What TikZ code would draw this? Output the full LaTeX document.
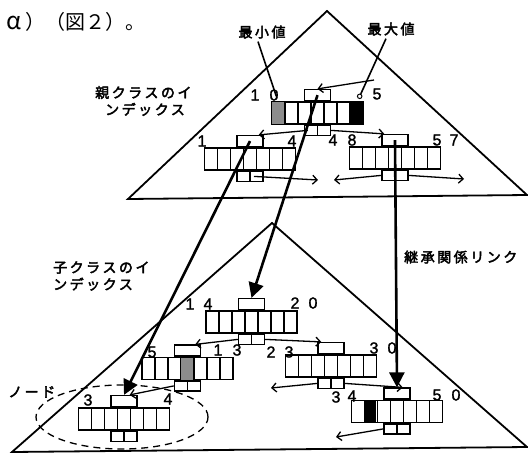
\documentclass[tikz,border=0pt]{standalone}
\usepackage{fontspec}
\newfontfamily\jp[LetterSpace=18,FakeBold=3]{Noto Sans CJK JP}
\newfontfamily\jpt{Noto Sans CJK JP}
\newfontfamily\numf[FakeBold=1.5]{Liberation Sans}
\usetikzlibrary{arrows.meta,calc,shapes.geometric}
\newcommand{\cellfill}[3]{\fill[#3] ([xshift={(#2-1)*13pt+0.7pt},yshift=0.7pt]#1.south west) rectangle ([xshift={#2*13pt-0.7pt},yshift=-0.7pt]#1.north west);}
\begin{document}
\begin{tikzpicture}[x=1pt,y=-1pt,
  keyrow/.style={draw, line width=1.4pt, minimum width=91pt, minimum height=22pt, inner sep=0,
    path picture={\foreach \i in {1,...,6}{\draw[line width=1.4pt] ([xshift=\i*13pt]path picture bounding box.south west) -- ([xshift=\i*13pt]path picture bounding box.north west);}}},
  hdr/.style={draw, line width=1.4pt, minimum width=26pt, minimum height=11pt, inner sep=0, anchor=south},
  ptrbox/.style={draw, line width=1.4pt, minimum width=26pt, minimum height=10pt, inner sep=0, anchor=north,
    path picture={\draw[line width=1.4pt] (path picture bounding box.north) -- (path picture bounding box.south);}},
  parr/.style={line width=1.3pt, -{Straight Barb[length=4.5pt,width=9pt]}},
  inh/.style={line width=2.6pt, -{Triangle[length=15pt,width=15pt]}},
  tri/.style={line width=1.8pt, line join=miter},
  num/.style={font=\numf\fontsize{16}{16}\selectfont, inner sep=0},
  jlab/.style={font=\jp\fontsize{14}{17}\selectfont, inner sep=0, align=left, anchor=west},
]
\useasboundingbox (0,0) rectangle (528,453);

% triangles
\draw[tri] (327,11) -- (128,199) -- (527,195) -- cycle;
\draw[tri] (272,223) -- (12,452) -- (527,447) -- cycle;

% title
\node[font=\jpt\fontsize{20}{20}\selectfont, inner sep=0, anchor=west] (title) at (6,22) {\fontsize{24}{24}\selectfont α\kern4pt\fontsize{20}{20}\selectfont）（図２）。};

% labels
\node[jlab, anchor=center] (minl) at (262,32) {最小値};
\node[jlab, anchor=center] (maxl) at (391,29) {最大値};
\node[jlab] (parl) at (95,101) {親クラスのイ\\\hspace*{10pt}ンデックス};
\node[jlab] (chil) at (53,276) {子クラスのイ\\ンデックス};
\node[jlab] (inhl) at (404,257) {継承関係リンク};
\node[jlab] (nodel) at (8,392) {ノード};

% ---- parent index nodes
\node[keyrow] (T0k) at (317.5,113) {};
\node[hdr] (T0h) at (T0k.north) {};
\node[ptrbox] (T0p) at (T0k.south) {};
\cellfill{T0k}{1}{black!45}
\cellfill{T0k}{7}{black}

\node[keyrow] (T1k) at (250,159) {};
\node[hdr] (T1h) at (T1k.north) {};
\node[ptrbox] (T1p) at (T1k.south) {};

\node[keyrow] (T2k) at (395,158) {};
\node[hdr] (T2h) at (T2k.north) {};
\node[ptrbox] (T2p) at (T2k.south) {};

% ---- child index nodes
\node[keyrow] (B0k) at (251.5,322) {};
\node[hdr] (B0h) at (B0k.north) {};
\node[ptrbox] (B0p) at (B0k.south) {};

\node[keyrow] (B1k) at (187.5,368.5) {};
\node[hdr] (B1h) at (B1k.north) {};
\node[ptrbox] (B1p) at (B1k.south) {};
\cellfill{B1k}{4}{black!45}

\node[keyrow] (B2k) at (331,366) {};
\node[hdr] (B2h) at (B2k.north) {};
\node[ptrbox] (B2p) at (B2k.south) {};

\node[keyrow] (B3k) at (124,419) {};
\node[hdr] (B3h) at (B3k.north) {};
\node[ptrbox] (B3p) at (B3k.south) {};

\node[keyrow] (B4k) at (397,411.5) {};
\node[hdr] (B4h) at (B4k.north) {};
\node[ptrbox] (B4p) at (B4k.south) {};
\cellfill{B4k}{2}{black}

% dashed ellipse
\node[draw, ellipse, line width=1.3pt, dash pattern=on 7pt off 5pt, minimum width=172pt, minimum height=64pt] (ell) at (122,417) {};

% number labels
\node[num] (n1) at (255,95) {1};
\node[num] (n2) at (274,95) {0};
\node[num] (n3) at (377,94) {5};
\node[num] (n4) at (202,141) {1};
\node[num] (n5) at (292,141) {4};
\node[num] (n6) at (333,140) {4};
\node[num] (n7) at (352,140) {8};
\node[num] (n8) at (437,140) {5};
\node[num] (n9) at (454,140) {7};
\node[num] (n10) at (190,304) {1};
\node[num] (n11) at (208,304) {4};
\node[num] (n12) at (295,303) {2};
\node[num] (n13) at (313,303) {0};
\node[num] (n14) at (152,352) {5};
\node[num] (n15) at (218,350) {1};
\node[num] (n16) at (237,350) {3};
\node[num] (n17) at (271,352) {2};
\node[num] (n18) at (289,352) {3};
\node[num] (n19) at (374,348) {3};
\node[num] (n20) at (392,348) {0};
\node[num] (n21) at (88,400) {3};
\node[num] (n22) at (168,399) {4};
\node[num] (n23) at (336,397) {3};
\node[num] (n24) at (352,396) {4};
\node[num] (n25) at (437,395) {5};
\node[num] (n26) at (456,395) {0};

% min / max pointers
\draw[line width=1.6pt] ([xshift=-4pt,yshift=-3pt]minl.south) -- ([xshift=5pt,yshift=5pt]T0k.north west);
\node[circle, draw, fill=white, inner sep=0, minimum size=4.5pt, line width=1pt] (maxdot) at ($(T0k.north east)+(-4pt,5pt)$) {};
\draw[line width=1.6pt] ([xshift=-5pt,yshift=-3pt]maxl.south) -- (maxdot);

% pointer arrows (parent index)
\coordinate (rin) at (374,80);
\coordinate (t1r) at (318,180);
\coordinate (t2l) at (334,180);
\coordinate (t2r) at (464,179);
\draw[parr] (rin) -- (T0h.north);
\draw[parr] ([xshift=4pt]T0p.west) -- ([xshift=-5pt]T1h.north east);
\draw[parr] (T0p.east) -- ([xshift=3pt]T2h.north west);
\draw[parr] ([xshift=4pt]T1p.center) -- (t1r);
\draw[parr] (T2p.west) -- (t2l);
\draw[parr] (T2p.east) -- (t2r);

% pointer arrows (child index)
\coordinate (b2l) at (271,388);
\coordinate (b4l) at (336,437);
\draw[parr] (B0p.west) -- ([xshift=-6pt]B1h.north east);
\draw[parr] (B0p.east) -- ([xshift=4pt]B2h.north west);
\draw[parr] (B1p.west) -- ([xshift=-8pt]B3h.north east);
\draw[parr] (B2p.west) -- (b2l);
\draw[parr] (B2p.east) -- ([xshift=-8pt]B4h.north east);
\draw[parr] (B4p.west) -- (b4l);

% inheritance links
\draw[inh] (T0h.center) -- (B0h.north);
\draw[inh] (T1h.center) -- (B3h.north);
\draw[inh] (T2h.center) -- (B4h.north);
\end{tikzpicture}
\end{document}
